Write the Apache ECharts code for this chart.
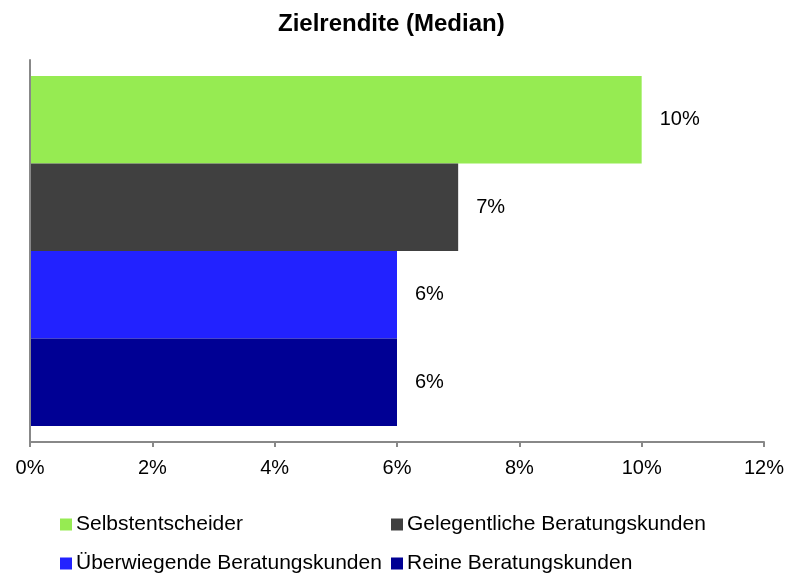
<!DOCTYPE html>
<html>
<head>
<meta charset="utf-8">
<script src="https://cdn.jsdelivr.net/npm/echarts@6/dist/echarts.min.js"></script>
<style>
  html, body { margin: 0; padding: 0; background: #fff; }
  #chart { width: 790px; height: 574px; }
</style>
</head>
<body>
<div id="chart"></div>
<script>
// Daten
var groups = ['Selbstentscheider', 'Gelegentliche Beratungskunden', 'Überwiegende Beratungskunden', 'Reine Beratungskunden'];
var values = [10, 7, 6, 6];
var colors = ['#96EB52', '#404040', '#2222FF', '#000094'];
var xTicks = [0, 2, 4, 6, 8, 10, 12];

var font = 'Liberation Sans, Arial, Helvetica, sans-serif';

var chart = echarts.init(document.getElementById('chart'));

var series = groups.map(function (name, i) {
    return {
        name: name,
        type: 'bar',
        data: [values[i]],
        barGap: '0%',
        barCategoryGap: '8.4%',
        itemStyle: { color: colors[i] },
        label: {
            show: true,
            position: 'right',
            distance: 18,
            formatter: '{c}%',
            fontFamily: font,
            fontSize: 20,
            color: '#000'
        },
        silent: true
    };
});

// Legende in zwei Spalten
var legendPos = [[55, 509], [386, 509], [55, 548], [386, 548]];
var legends = groups.map(function (name, i) {
    return {
        data: [name],
        left: legendPos[i][0],
        top: legendPos[i][1],
        itemWidth: 12,
        itemHeight: 12,
        icon: 'rect',
        itemGap: 4,
        textStyle: { fontFamily: font, fontSize: 21, color: '#000', padding: [0, 0, 0, -1] },
        selectedMode: false
    };
});

var option = {
    animation: false,
    title: {
        text: 'Zielrendite (Median)',
        left: 273,
        top: 7,
        textStyle: { fontFamily: font, fontSize: 24, fontWeight: 'bold', color: '#000' }
    },
    legend: legends,
    grid: { left: 30, right: 26, top: 60, bottom: 132, containLabel: false },
    xAxis: {
        type: 'value',
        min: xTicks[0],
        max: xTicks[xTicks.length - 1],
        interval: 2,
        splitLine: { show: false },
        axisLine: { show: true, lineStyle: { color: '#888', width: 2 } },
        axisTick: { show: true, length: 5, lineStyle: { color: '#888', width: 2 } },
        axisLabel: {
            formatter: '{value}%',
            margin: 16,
            fontFamily: font,
            fontSize: 20,
            color: '#000'
        }
    },
    yAxis: {
        type: 'category',
        data: [''],
        inverse: true,
        z: 5,
        axisLine: { show: true, lineStyle: { color: '#888', width: 2 } },
        axisTick: { show: false },
        axisLabel: { show: false }
    },
    series: series
};

chart.setOption(option);
</script>
</body>
</html>
